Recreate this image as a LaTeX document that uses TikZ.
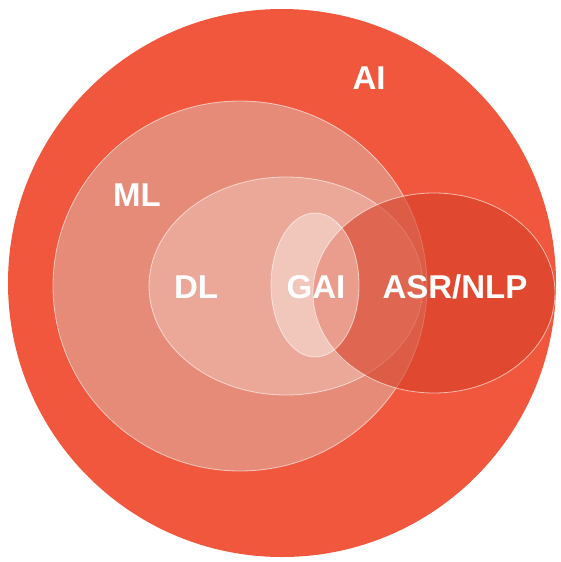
\documentclass[tikz,border=0pt]{standalone}
\usepackage{fontspec}
\setmainfont{Liberation Sans}
\definecolor{aired}{HTML}{F0573D}
\definecolor{mlpink}{HTML}{E58B78}
\definecolor{dlpink}{HTML}{EBA898}
\definecolor{asrred}{HTML}{D84229}

\begin{document}
\begin{tikzpicture}[x=1pt,y=-1pt,
  rim/.style={draw=white,draw opacity=0.6,line width=0.8pt},
  lbl/.style={text=white,font=\fontsize{33}{36}\selectfont\bfseries}]
  \useasboundingbox (0,0) rectangle (560,562);
  % sets, outermost first
  \fill[aired] (282,283) circle (274);
  \draw[rim,fill=mlpink] (240,286) ellipse (187 and 185);
  \draw[rim,fill=dlpink] (286,286) ellipse (137 and 109);
  \draw[rim,fill=asrred,fill opacity=0.63] (434,293) ellipse (121 and 100);
  \draw[rim,fill=white,fill opacity=0.35] (315,285) ellipse (44 and 72);
  % labels
  \node[lbl] (ai) at (369,78) {AI};
  \node[lbl] (ml) at (137,195) {ML};
  \node[lbl] (dl) at (196,287) {DL};
  \node[lbl] (gai) at (316,287) {GAI};
  \node[lbl] (asr) at (455,287) {ASR/NLP};
\end{tikzpicture}
\end{document}
